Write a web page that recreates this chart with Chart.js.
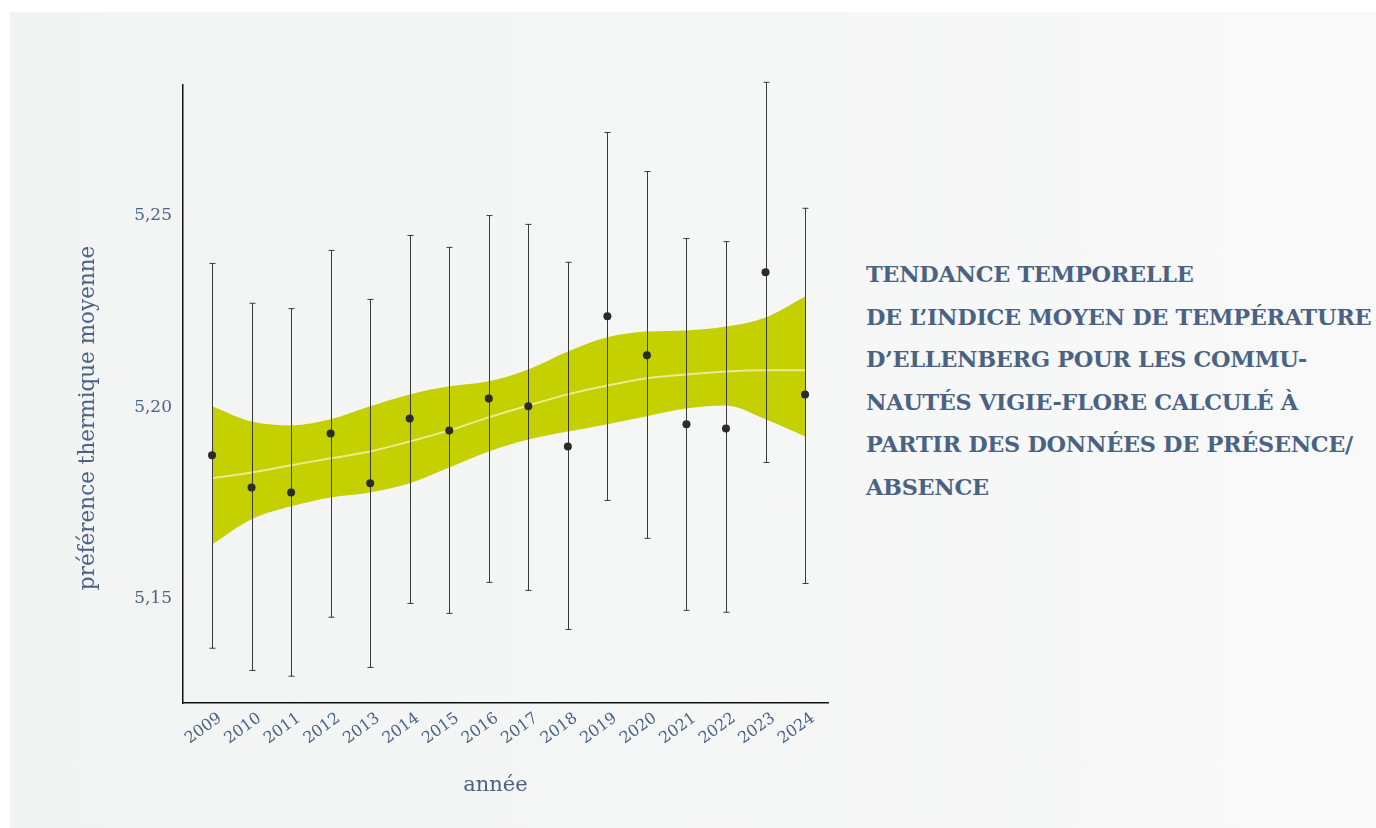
<!DOCTYPE html>
<html>
<head>
<meta charset="utf-8">
<script src="https://cdn.jsdelivr.net/npm/chart.js@4"></script>
<style>
  html, body { margin: 0; padding: 0; background: #ffffff; }
  body { width: 1376px; height: 828px; position: relative; overflow: hidden; }
  #panel { position: absolute; left: 10px; top: 12px; right: 0; bottom: 0;
           background: linear-gradient(to right, #f2f3f3, #f9f9f9); }
  #wrap { position: absolute; left: 0; top: 0; width: 840px; height: 828px; }
  #titre { position: absolute; left: 866px; top: 253px; width: 520px;
           font-family: "DejaVu Serif", serif; font-weight: bold; font-size: 22.4px;
           line-height: 42.5px; color: #4b6383; letter-spacing: -0.3px; }
</style>
</head>
<body>
<div id="panel"></div>
<div id="wrap"><canvas id="grafico"></canvas></div>
<div id="titre">TENDANCE TEMPORELLE<br>DE L’INDICE MOYEN DE TEMPÉRATURE<br>D’ELLENBERG POUR LES COMMU-<br>NAUTÉS VIGIE-FLORE CALCULÉ À<br>PARTIR DES DONNÉES DE PRÉSENCE/<br>ABSENCE</div>
<script>
const annees = [2009, 2010, 2011, 2012, 2013, 2014, 2015, 2016, 2017, 2018, 2019, 2020, 2021, 2022, 2023, 2024];
const moyenne = [5.1875, 5.1791, 5.1778, 5.1932, 5.1802, 5.1971, 5.1940, 5.2023, 5.2003, 5.1898, 5.2238, 5.2136, 5.1956, 5.1945, 5.2353, 5.2034];
const errHaut = [5.2376, 5.2272, 5.2258, 5.2410, 5.2282, 5.2449, 5.2418, 5.2501, 5.2478, 5.2379, 5.2718, 5.2616, 5.2441, 5.2433, 5.2849, 5.2520];
const errBas = [5.1371, 5.1313, 5.1298, 5.1452, 5.1321, 5.1488, 5.1462, 5.1543, 5.1522, 5.1420, 5.1757, 5.1658, 5.1470, 5.1465, 5.1856, 5.1540];
const tendance = [5.1815, 5.1830, 5.1849, 5.1867, 5.1885, 5.1911, 5.1940, 5.1974, 5.2005, 5.2034, 5.2057, 5.2076, 5.2086, 5.2094, 5.2097, 5.2097];
const bandeHaut = [5.2003, 5.1963, 5.1953, 5.1969, 5.2003, 5.2034, 5.2055, 5.2068, 5.2099, 5.2146, 5.2183, 5.2198, 5.2201, 5.2211, 5.2235, 5.2290];
const bandeBas = [5.1642, 5.1708, 5.1742, 5.1765, 5.1778, 5.1802, 5.1843, 5.1885, 5.1916, 5.1937, 5.1956, 5.1977, 5.1997, 5.2005, 5.1969, 5.1924];
const ticksY = [5.15, 5.20, 5.25];

const bleu = '#4b6383';
const nb = '\u00a0';
const pts = (arr) => arr.map((v, i) => ({ x: annees[i], y: v }));

// barres d'erreur dessinées juste avant les points
const barresErreur = {
  id: 'barresErreur',
  beforeDatasetDraw(chart, args) {
    if (args.index !== 3) return;
    const ctx = chart.ctx;
    const sx = chart.scales.x, sy = chart.scales.y;
    ctx.save();
    ctx.strokeStyle = '#3a3a3a';
    ctx.lineWidth = 1;
    annees.forEach((a, i) => {
      const x = Math.round(sx.getPixelForValue(a)) + 0.5;
      const y1 = sy.getPixelForValue(errHaut[i]);
      const y2 = sy.getPixelForValue(errBas[i]);
      ctx.beginPath();
      ctx.moveTo(x, y1); ctx.lineTo(x, y2);
      ctx.moveTo(x - 3, y1); ctx.lineTo(x + 3, y1);
      ctx.moveTo(x - 3, y2); ctx.lineTo(x + 3, y2);
      ctx.stroke();
    });
    ctx.restore();
  }
};

const data = {
  datasets: [
    { data: pts(bandeHaut), order: 4, borderWidth: 0, pointRadius: 0, fill: '+1',
      backgroundColor: '#c4d000', cubicInterpolationMode: 'monotone' },
    { data: pts(bandeBas), order: 3, borderWidth: 0, pointRadius: 0, fill: false,
      cubicInterpolationMode: 'monotone' },
    { data: pts(tendance), order: 2, borderColor: 'rgba(238,238,160,0.9)', borderWidth: 2,
      pointRadius: 0, fill: false, cubicInterpolationMode: 'monotone' },
    { data: pts(moyenne), order: 1, showLine: false, pointRadius: 4,
      pointBackgroundColor: '#2b2b2b', pointBorderWidth: 0 }
  ]
};

const config = {
  type: 'line',
  data: data,
  plugins: [barresErreur],
  options: {
    responsive: true,
    maintainAspectRatio: false,
    animation: false,
    layout: { padding: { top: 85, right: 12, left: 0, bottom: 0 } },
    plugins: { legend: { display: false }, tooltip: { enabled: false } },
    scales: {
      x: {
        type: 'linear',
        min: 2008.266,
        max: 2024.58,
        afterBuildTicks: (s) => { s.ticks = annees.map((v) => ({ value: v })); },
        afterFit: (s) => { s.height = 125; },
        grid: { display: false, drawTicks: true, tickLength: 5, tickColor: '#333' },
        border: { display: true, color: '#111', width: 1.5 },
        ticks: {
          color: bleu, font: { family: 'DejaVu Serif', size: 16 },
          maxRotation: 36, minRotation: 36, padding: 1, labelOffset: 8,
          callback: (v) => String(v)
        },
        title: { display: true, text: 'année' + nb.repeat(3), color: bleu,
                 font: { family: 'DejaVu Serif', size: 21 }, padding: { bottom: 30 } }
      },
      y: {
        min: 5.1228,
        max: 5.2842,
        afterBuildTicks: (s) => { s.ticks = ticksY.map((v) => ({ value: v })); },
        afterFit: (s) => { s.width = 183; },
        grid: { display: false, drawTicks: true, tickLength: 5, tickColor: '#333' },
        border: { display: true, color: '#111', width: 1.5 },
        ticks: {
          color: bleu, font: { family: 'DejaVu Serif', size: 17 }, padding: 6,
          callback: (v) => v.toFixed(2).replace('.', ',')
        },
        title: { display: true, text: 'préférence thermique moyenne' + nb.repeat(7), color: bleu,
                 font: { family: 'DejaVu Serif', size: 21.5 }, padding: { top: 76 } }
      }
    }
  }
};

const myChart = new Chart(document.getElementById('grafico'), config);
</script>
</body>
</html>
